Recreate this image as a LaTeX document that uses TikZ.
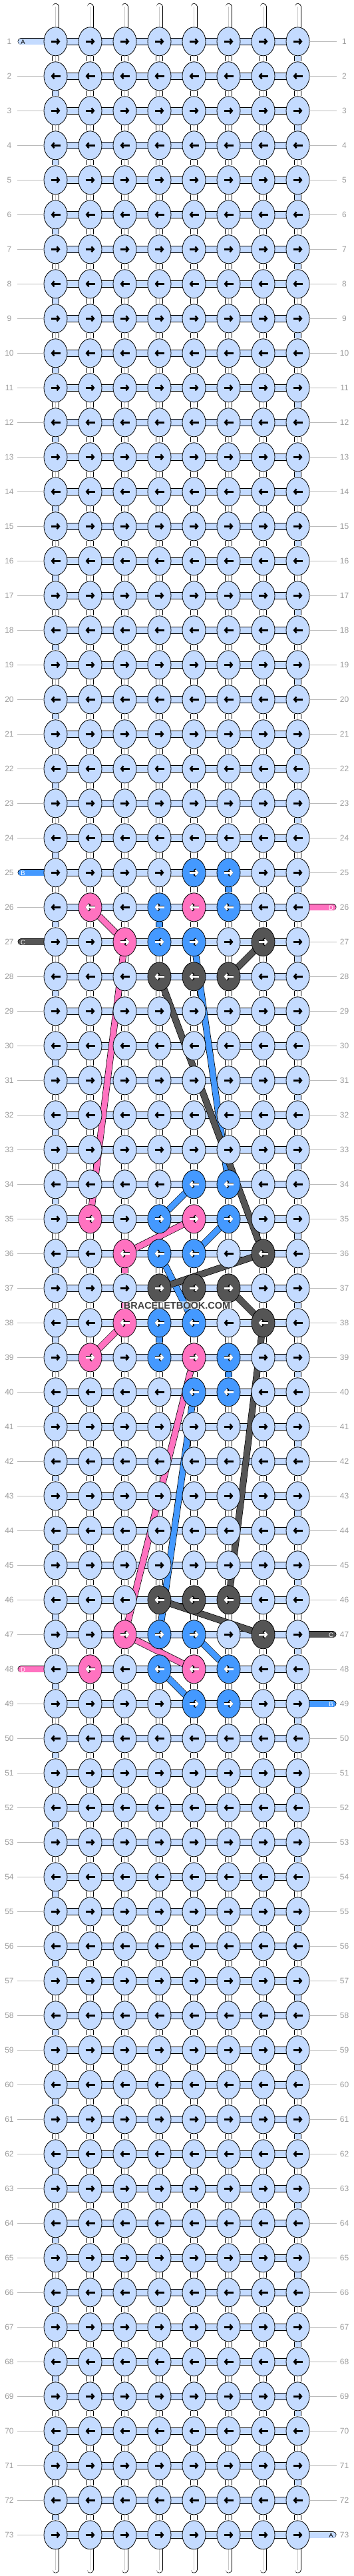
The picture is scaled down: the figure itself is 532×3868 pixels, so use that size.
\documentclass[tikz,border=0pt]{standalone}
\usepackage{fontspec}
\setmainfont{Liberation Sans}
\usepackage{tikz}
\usetikzlibrary{arrows.meta}
\usetikzlibrary{shapes.geometric}
\definecolor{knotA}{HTML}{C4DBFF}
\definecolor{knotB}{HTML}{4499FF}
\definecolor{knotC}{HTML}{555555}
\definecolor{knotD}{HTML}{FF72C0}
\definecolor{rowgray}{HTML}{9C9C9C}
\definecolor{warpcore}{HTML}{C8C8C8}
\pgfdeclarelayer{back}
\pgfsetlayers{back,main}
\tikzset{>=latex}
\tikzstyle{knot} = [ellipse, draw=black, line width=0.8pt, minimum width=35pt, minimum height=43pt, inner sep=0pt]
\tikzstyle{knot arrow} = [line width=2.5pt, -{Straight Barb[length=3.4pt, width=8pt]}]
\tikzstyle{knot rim} = [line width=3.9pt, draw=black, -{Straight Barb[length=3.9pt, width=9.6pt]}]
\tikzset{hlink/.style = {double=knotA, double distance=9pt, line width=0.7pt}}
\tikzset{vlink/.style = {double=#1, double distance=8.8pt, line width=0.7pt}}
\tikzset{vcore/.style = {draw=warpcore, line width=0.7pt}}
\tikzset{strand/.style = {double=#1, double distance=8.6pt, line width=0.7pt, line cap=round}}
\tikzset{rowno/.style = {text=rowgray, font=\fontsize{12}{12}\selectfont, inner sep=0pt}}
\tikzset{rowline/.style = {draw=rowgray!70, line width=0.8pt}}
\tikzset{endtag/.style = {font=\fontsize{9.5}{10}\selectfont, inner sep=0pt}}
\tikzset{watermark/.style = {font=\bfseries\fontsize{14.5}{15}\selectfont, text=black!75, fill=white, fill opacity=0.55, text opacity=1, inner sep=1pt}}

% coloured knots (row-col)
\foreach \rc/\kc in {25-5/knotB, 25-6/knotB,
  26-2/knotD, 26-4/knotB, 26-5/knotD, 26-6/knotB,
  27-3/knotD, 27-4/knotB, 27-5/knotB, 27-7/knotC,
  28-4/knotC, 28-5/knotC, 28-6/knotC,
  34-5/knotB, 34-6/knotB,
  35-2/knotD, 35-4/knotB, 35-5/knotD, 35-6/knotB,
  36-3/knotD, 36-4/knotB, 36-5/knotB, 36-7/knotC,
  37-4/knotC, 37-5/knotC, 37-6/knotC,
  38-3/knotD, 38-4/knotB, 38-5/knotB, 38-7/knotC,
  39-2/knotD, 39-4/knotB, 39-5/knotD, 39-6/knotB,
  40-5/knotB, 40-6/knotB,
  46-4/knotC, 46-5/knotC, 46-6/knotC,
  47-3/knotD, 47-4/knotB, 47-5/knotB, 47-7/knotC,
  48-2/knotD, 48-4/knotB, 48-5/knotD, 48-6/knotB,
  49-5/knotB, 49-6/knotB}
  {\expandafter\xdef\csname kc-\rc\endcsname{\kc}}
% coloured links below a knot (row-col)
\foreach \rc/\kc in {25-6/knotB, 26-4/knotB, 36-3/knotD, 37-3/knotD, 38-4/knotB, 39-6/knotB}
  {\expandafter\xdef\csname vc-\rc\endcsname{\kc}}
% rows with a strand end
\foreach \r in {1, 25, 27, 48} {\expandafter\xdef\csname lt-\r\endcsname{1}}
\foreach \r in {26, 47, 49, 73} {\expandafter\xdef\csname rt-\r\endcsname{1}}

\begin{document}
\begin{tikzpicture}[x=1pt, y=-1pt]
\useasboundingbox (0,0) rectangle (532,3868);

% knots
\foreach \r in {1,...,73} {
  \foreach \c in {1,...,8} {
    \ifcsname kc-\r-\c\endcsname
      \edef\knotfill{\csname kc-\r-\c\endcsname}\def\kdark{1}
    \else
      \def\knotfill{knotA}\def\kdark{0}
    \fi
    \ifodd\r \def\kdir{1}\else \def\kdir{-1}\fi
    \node [knot, fill=\knotfill] (k-\r-\c) at ({83.5+52*(\c-1)}, {62.3+52*(\r-1)}) {};
    \ifnum\kdark=1
      \draw [knot rim] (k-\r-\c.center) ++({-7*\kdir},0) -- ++({14*\kdir},0);
      \draw [knot arrow, draw=white] (k-\r-\c.center) ++({-7*\kdir},0) -- ++({14*\kdir},0);
    \else
      \draw [knot arrow, draw=black] (k-\r-\c.center) ++({-7*\kdir},0) -- ++({14*\kdir},0);
    \fi
  }
}

% row numbers
\foreach \r in {1,...,73} {
  \pgfmathsetmacro\ry{62.3+52*(\r-1)}
  \node [rowno] (ln-\r) at (14, \ry) {\r};
  \node [rowno] (rn-\r) at (517.5, \ry) {\r};
  \coordinate (lg-\r) at (26, \ry);
  \coordinate (rg-\r) at (506, \ry);
  \ifcsname lt-\r\endcsname\else \draw [rowline] (lg-\r) -- (k-\r-1.west);\fi
  \ifcsname rt-\r\endcsname\else \draw [rowline] (k-\r-8.east) -- (rg-\r);\fi
}

\node [watermark] (wm) at (266, 1960.3) {BRACELETBOOK.COM};

\begin{pgfonlayer}{back}
% horizontal links
\foreach \r in {1,...,73}
  \foreach \c [count=\cn from 2] in {1,...,7}
    \draw [hlink] (k-\r-\c) -- (k-\r-\cn);

% vertical links
\foreach \r [count=\rn from 2] in {1,...,72} {
  \foreach \c in {1,...,8} {
    \ifcsname vc-\r-\c\endcsname
      \edef\linkfill{\csname vc-\r-\c\endcsname}
    \else
      \def\linkfill{white}
      \ifnum\c=1 \ifodd\r\else \def\linkfill{knotA}\fi\fi
      \ifnum\c=8 \ifodd\r \def\linkfill{knotA}\fi\fi
    \fi
    \draw [vlink=\linkfill] (k-\r-\c) -- (k-\rn-\c);
    \def\linkwhite{white}
    \ifx\linkfill\linkwhite \draw [vcore] (k-\r-\c) -- (k-\rn-\c);\fi
  }
}

% warp ends
\foreach \c in {1,...,8} {
  \coordinate (top-\c) at ({83.5+52*(\c-1)}, 10);
  \coordinate (bot-\c) at ({83.5+52*(\c-1)}, 3858.5);
  \draw [strand=white] (top-\c) -- (k-1-\c);
  \draw [vcore] (top-\c) -- (k-1-\c);
  \draw [strand=white] (k-73-\c) -- (bot-\c);
  \draw [vcore] (k-73-\c) -- (bot-\c);
}

% strand ends
\foreach \r/\sc/\sl/\tc in {1/knotA/A/black, 25/knotB/B/white, 27/knotC/C/white, 48/knotD/D/white} {
  \coordinate (in-\r) at (31.5, {62.3+52*(\r-1)});
  \draw [strand=\sc] (in-\r) -- (k-\r-1);
  \node [endtag, text=\tc] (lt-\r) at (34.5, {62.8+52*(\r-1)}) {\sl};
}
\foreach \r/\sc/\sl/\tc in {26/knotD/D/white, 47/knotC/C/white, 49/knotB/B/white, 73/knotA/A/black} {
  \coordinate (out-\r) at (500.5, {62.3+52*(\r-1)});
  \draw [strand=\sc] (k-\r-8) -- (out-\r);
  \node [endtag, text=\tc] (rt-\r) at (497.5, {62.8+52*(\r-1)}) {\sl};
}

% hidden strand runs
\foreach \a/\b in {27-5/34-6, 34-5/35-4, 35-6/36-5, 36-4/38-5, 40-5/47-4, 47-5/48-6, 48-4/49-5}
  \draw [strand=knotB] (k-\a) -- (k-\b);
\foreach \a/\b in {26-2/27-3, 27-3/35-2, 35-5/36-3, 38-3/39-2, 39-5/47-3, 47-3/48-5}
  \draw [strand=knotD] (k-\a) -- (k-\b);
\foreach \a/\b in {27-7/28-6, 28-4/36-7, 36-7/37-4, 37-6/38-7, 38-7/46-6, 46-4/47-7}
  \draw [strand=knotC] (k-\a) -- (k-\b);
\end{pgfonlayer}
\end{tikzpicture}
\end{document}
